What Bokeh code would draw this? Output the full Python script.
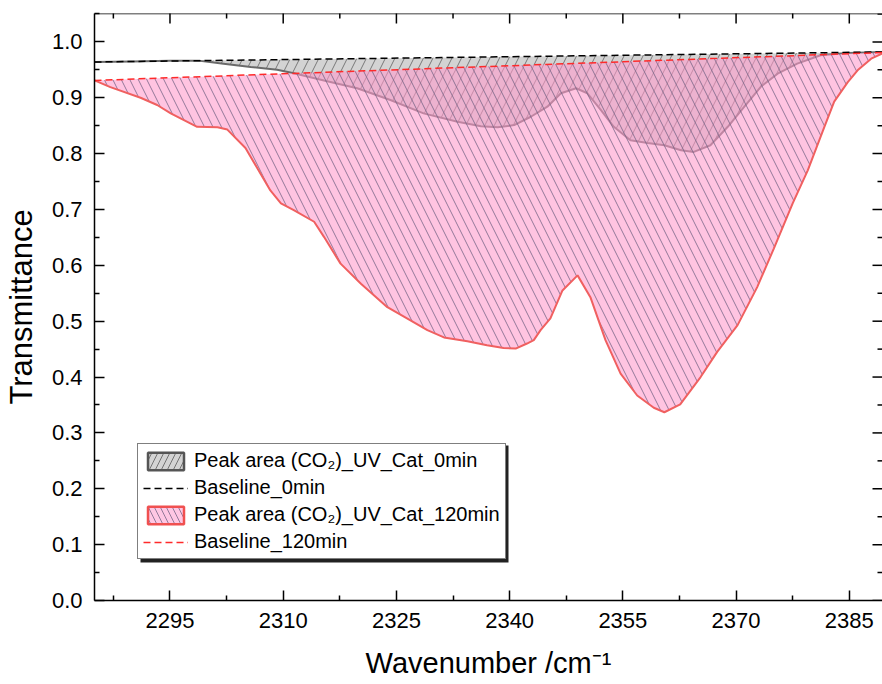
import numpy as np
from bokeh.plotting import figure
from bokeh.models import (Range1d, LinearAxis, FixedTicker, Legend, LegendItem,
                          CustomJSTickFormatter, Span, BoxAnnotation)
from bokeh.embed import file_html
from bokeh.resources import INLINE

# ---------------- data ----------------
wn_120 = [2285.0, 2287.1, 2291.1, 2293.3, 2295.1, 2298.6, 2301.3, 2302.6, 2305.0, 2308.3,
          2309.7, 2311.4, 2314.1, 2315.4, 2317.6, 2320.3, 2323.8, 2326.4, 2329.1, 2331.3,
          2334.4, 2337.0, 2339.2, 2340.8, 2342.3, 2343.2, 2344.1, 2345.4, 2347.0, 2349.0,
          2350.7, 2352.7, 2354.7, 2356.9, 2359.1, 2360.5, 2362.6, 2365.3, 2367.5, 2370.2,
          2372.8, 2375.0, 2377.5, 2379.5, 2381.7, 2383.0, 2384.8, 2386.1, 2387.9, 2389.5]
t_120 = [0.931, 0.919, 0.900, 0.887, 0.872, 0.848, 0.847, 0.843, 0.810, 0.734,
         0.711, 0.699, 0.678, 0.651, 0.603, 0.567, 0.525, 0.505, 0.484, 0.471,
         0.464, 0.457, 0.452, 0.451, 0.460, 0.466, 0.484, 0.505, 0.555, 0.582,
         0.543, 0.466, 0.406, 0.367, 0.345, 0.337, 0.351, 0.400, 0.445, 0.493,
         0.561, 0.630, 0.711, 0.770, 0.848, 0.893, 0.928, 0.949, 0.970, 0.980]

wn_0 = [2285.0, 2290.0, 2295.0, 2299.0, 2302.1, 2305.7, 2309.2, 2311.4, 2315.4, 2319.8,
        2324.2, 2328.6, 2333.1, 2336.2, 2338.4, 2340.6, 2342.8, 2345.0, 2346.8, 2348.8,
        2350.3, 2352.1, 2353.8, 2356.0, 2358.3, 2360.5, 2362.7, 2364.4, 2366.6, 2368.9,
        2371.1, 2373.3, 2375.5, 2378.1, 2381.2, 2384.8, 2389.5]
t_0 = [0.964, 0.965, 0.966, 0.966, 0.961, 0.955, 0.950, 0.944, 0.931, 0.917,
       0.896, 0.872, 0.857, 0.849, 0.847, 0.851, 0.866, 0.884, 0.908, 0.917,
       0.908, 0.878, 0.848, 0.824, 0.819, 0.815, 0.806, 0.803, 0.815, 0.848,
       0.884, 0.920, 0.943, 0.961, 0.976, 0.980, 0.982]

base_x = [2285.0, 2389.5]
base_0 = [0.964, 0.982]
base_120 = [0.931, 0.981]

x_ticks = [2295, 2310, 2325, 2340, 2355, 2370, 2385]
y_ticks = [0.0, 0.1, 0.2, 0.3, 0.4, 0.5, 0.6, 0.7, 0.8, 0.9, 1.0]

labels = ["Peak area (CO\u2082)_UV_Cat_0min", "Baseline_0min",
          "Peak area (CO\u2082)_UV_Cat_120min", "Baseline_120min"]

X_START, X_END = 2285.0, 2389.4
Y_START, Y_END = 0.0, 1.0508

# polygons: spectrum followed by baseline back to start
poly0_x = list(wn_0) + base_x[::-1]
poly0_y = list(t_0) + base_0[::-1]
poly120_x = list(wn_120) + base_x[::-1]
poly120_y = list(t_120) + base_120[::-1]

x_minor = [x_ticks[0] - 7.5] + [t + 7.5 for t in x_ticks]
y_minor = [round(v + 0.05, 2) for v in y_ticks]

FONT = "Liberation Sans"

p = figure(width=882, height=684, x_range=Range1d(X_START, X_END), y_range=Range1d(Y_START, Y_END),
           output_backend="svg", toolbar_location=None,
           min_border_left=94, min_border_right=0, min_border_top=13, min_border_bottom=84,
           x_axis_location=None, y_axis_location=None)
p.xgrid.visible = False
p.ygrid.visible = False
p.outline_line_color = None
p.background_fill_color = "white"
p.border_fill_color = "white"


def style_axis(ax):
    ax.axis_line_color = "black"
    ax.axis_line_width = 1.5
    ax.major_tick_line_width = 1.5
    ax.minor_tick_line_width = 1.5
    ax.major_tick_in = 10
    ax.major_tick_out = 0
    ax.minor_tick_in = 5
    ax.minor_tick_out = 0
    ax.major_label_text_font = FONT
    ax.major_label_text_color = "black"
    ax.axis_label_text_font = FONT
    ax.axis_label_text_font_style = "normal"
    ax.axis_label_text_color = "black"


xb = LinearAxis(ticker=FixedTicker(ticks=x_ticks, minor_ticks=x_minor), axis_label="Wavenumber /cm\u207b\u00b9")
style_axis(xb)
xb.major_label_text_font_size = "22px"
xb.major_label_standoff = 12
xb.axis_label_text_font_size = "29px"
xb.axis_label_standoff = 16
p.add_layout(xb, "below")

yl = LinearAxis(ticker=FixedTicker(ticks=y_ticks, minor_ticks=y_minor), axis_label="Transmittance")
style_axis(yl)
yl.formatter = CustomJSTickFormatter(code="return tick.toFixed(1);")
yl.major_label_text_font_size = "22px"
yl.major_label_standoff = 12
yl.axis_label_text_font_size = "31px"
yl.axis_label_standoff = 10
p.add_layout(yl, "left")

# top spine
p.add_layout(Span(location=Y_END, dimension="width", line_color="black", line_width=1.5))

# ---- 0 min peak area ----
p.patch(poly0_x, poly0_y, fill_color="#A8A8A8", fill_alpha=0.5,
        hatch_pattern="/", hatch_color="#5A5A5A", hatch_alpha=0.75,
        hatch_weight=1, hatch_scale=19, line_alpha=0)
p.line(wn_0, t_0, line_color="#6A6A6A", line_width=2)

# ---- 120 min peak area ----
p.patch(poly120_x, poly120_y, fill_color="#FF99CC", fill_alpha=0.58,
        hatch_pattern="\\", hatch_color="#6F5F80", hatch_alpha=0.75,
        hatch_weight=1, hatch_scale=17, line_alpha=0)
p.line(wn_120, t_120, line_color="#F06060", line_width=2)

b0 = p.line(base_x, base_0, line_color="black", line_width=1.5, line_dash="7 4")
b120 = p.line(base_x, base_120, line_color="#FF2A2A", line_width=1.5, line_dash="7 4")

# inward ticks on the top and right frame edges (clipped to the frame)
p.scatter(x_ticks, [Y_END] * len(x_ticks), marker="dash", angle=np.pi / 2, size=20,
          line_color="black", line_width=1.5)
p.scatter(x_minor, [Y_END] * len(x_minor), marker="dash", angle=np.pi / 2, size=10,
          line_color="black", line_width=1.5)
p.scatter([X_END] * len(y_ticks), y_ticks, marker="dash", size=20,
          line_color="black", line_width=1.5)
p.scatter([X_END] * len(y_minor), y_minor, marker="dash", size=10,
          line_color="black", line_width=1.5)

# legend-only glyphs (same areas, with outline)
leg_gray = p.patch(poly0_x, poly0_y, fill_color="#A8A8A8", fill_alpha=0.5,
                   hatch_pattern="/", hatch_color="#5A5A5A", hatch_alpha=0.8,
                   hatch_weight=1, hatch_scale=12, line_color="#555555", line_width=2.5)
leg_gray.visible = False
leg_pink = p.patch(poly120_x, poly120_y, fill_color="#FF99CC", fill_alpha=0.55,
                   hatch_pattern="\\", hatch_color="#6F5F80", hatch_alpha=0.75,
                   hatch_weight=1, hatch_scale=12, line_color="#F05050", line_width=2.5)
leg_pink.visible = False

# legend drop shadow
shadow = BoxAnnotation(left=46, right=414, bottom=38, top=155,
                       left_units="screen", right_units="screen",
                       bottom_units="screen", top_units="screen",
                       fill_color="#222222", fill_alpha=1, line_color=None)
p.add_layout(shadow)

legend = Legend(items=[
    LegendItem(label=labels[0], renderers=[leg_gray]),
    LegendItem(label=labels[1], renderers=[b0]),
    LegendItem(label=labels[2], renderers=[leg_pink]),
    LegendItem(label=labels[3], renderers=[b120]),
], location=(43, 41))
legend.label_text_font = FONT
legend.label_text_font_size = "20px"
legend.label_text_color = "black"
legend.glyph_width = 45
legend.glyph_height = 22
legend.label_standoff = 6
legend.spacing = 4
legend.padding = 5
legend.margin = 0
legend.border_line_color = "black"
legend.border_line_width = 1
legend.background_fill_color = "white"
legend.background_fill_alpha = 1
legend.inactive_fill_alpha = 0
legend.click_policy = "none"
p.add_layout(legend, "center")

open("out.html", "w").write(file_html(p, INLINE))
